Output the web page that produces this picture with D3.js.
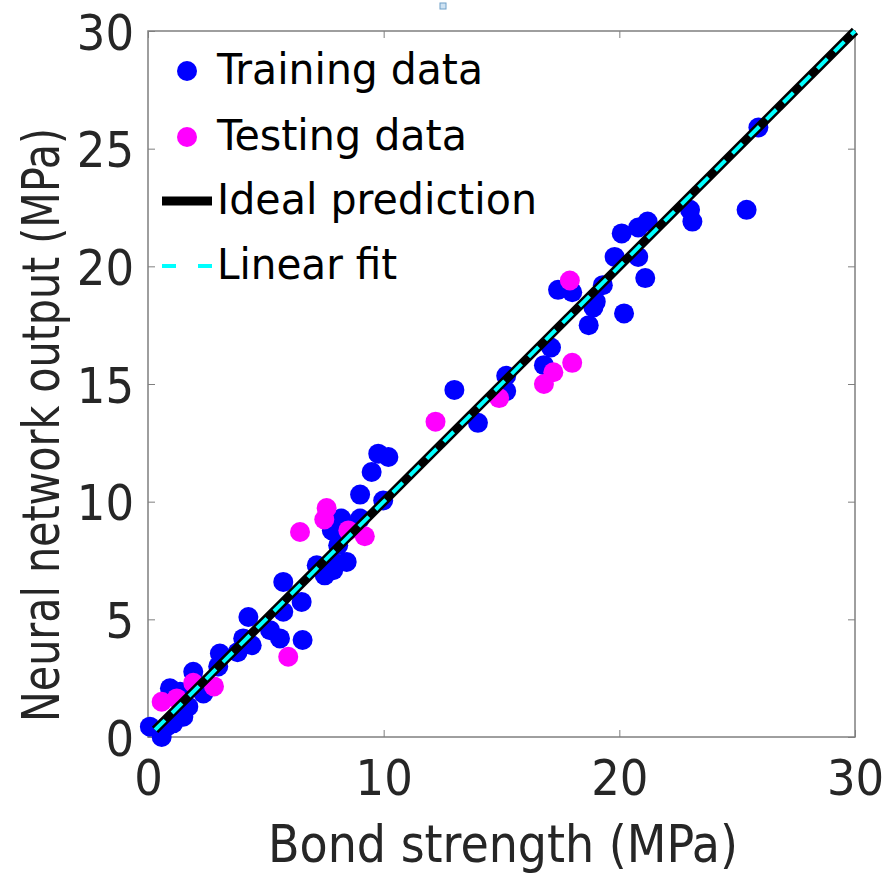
<!DOCTYPE html>
<html><head><meta charset="utf-8">
<script src="https://cdn.jsdelivr.net/npm/d3@7"></script>
<style>
body{margin:0;background:#fff;}
svg text{font-family:"Liberation Sans Narrow","DejaVu Sans Condensed","Open Sans",sans-serif;fill:#262626;}
</style></head>
<body><svg id="c" width="885" height="875"></svg>
<script>
// Training data [bond strength, network output]
const trainX = [0.08,0.58,0.79,1.07,1.5,1.71,0.93,1.36,2.35,1.92,2.98,3.05,3.8,4.04,4.4,4.26,5.18,5.6,6.56,5.74,6.52,5.74,7.16,7.5,7.86,8.07,8.43,7.93,7.8,8.2,9.0,9.0,9.98,9.49,9.77,10.2,13.0,14.0,15.2,15.2,16.8,17.1,17.4,18.0,18.7,18.9,19.0,19.3,20.2,19.8,20.8,21.1,20.1,20.8,21.2,23.0,23.1,25.4,25.9];
const trainY = [0.44,0.0,0.44,0.58,0.86,1.29,2.07,1.92,1.85,2.77,3.0,3.55,3.6,4.19,3.9,5.1,4.54,4.19,4.12,5.32,5.74,6.59,7.3,6.87,7.09,8.15,7.44,7.37,8.78,9.28,9.28,10.3,10.05,11.26,12.04,11.9,14.75,13.35,15.35,14.7,15.8,16.55,19.0,18.9,17.5,18.25,18.5,19.2,18.0,20.4,20.4,19.5,21.4,21.65,21.9,22.4,21.9,22.4,25.9];
// Testing data
const testX = [0.58,1.22,1.92,2.8,5.95,6.45,7.48,7.58,8.5,9.2,12.2,14.9,16.8,17.2,18.0,17.9];
const testY = [1.5,1.64,2.3,2.15,3.41,8.71,9.24,9.73,8.78,8.53,13.4,14.4,15.0,15.5,15.9,19.4];
// Lines
const lineX = [0.3,30];
const xTicks = [0,10,20,30];
const yTicks = [0,5,10,15,20,25,30];
const legendLabels = ["Training data","Testing data","Ideal prediction","Linear fit"];

const svg = d3.select("#c");
const L=148,R=855,T=31,B=737;
const x = d3.scaleLinear().domain([0,30]).range([L,R]);
const y = d3.scaleLinear().domain([0,30]).range([B,T]);

// small artifact square
svg.append("rect").attr("x",440).attr("y",3).attr("width",6).attr("height",6)
  .attr("fill","#cfe3f3").attr("stroke","#6fa0c8").attr("stroke-width",1);

// axes box
const axc="#7f7f7f";
svg.append("rect").attr("x",L).attr("y",T).attr("width",R-L).attr("height",B-T)
  .attr("fill","none").attr("stroke",axc).attr("stroke-width",1.5);
const g=svg.append("g");
const fs=50;
g.append("g").attr("transform",`translate(0,${B})`)
  .call(d3.axisBottom(x).tickValues(xTicks).tickSize(-7).tickPadding(16).tickFormat(d3.format("d")))
  .call(s=>{s.select(".domain").remove();s.selectAll("line").attr("stroke",axc);
    s.selectAll("text").attr("font-size",fs).attr("fill","#262626").attr("dy","0.71em").attr("y",22);});
g.append("g").attr("transform",`translate(0,${T})`)
  .call(d3.axisTop(x).tickValues(xTicks).tickSize(-7).tickFormat(""))
  .call(s=>{s.select(".domain").remove();s.selectAll("line").attr("stroke",axc);});
g.append("g").attr("transform",`translate(${L},0)`)
  .call(d3.axisLeft(y).tickValues(yTicks).tickSize(-7).tickPadding(14).tickFormat(d3.format("d")))
  .call(s=>{s.select(".domain").remove();s.selectAll("line").attr("stroke",axc);
    s.selectAll("text").attr("font-size",fs).attr("fill","#262626").attr("x",-14).attr("dy","0.36em");});
g.append("g").attr("transform",`translate(${R},0)`)
  .call(d3.axisRight(y).tickValues(yTicks).tickSize(-7).tickFormat(""))
  .call(s=>{s.select(".domain").remove();s.selectAll("line").attr("stroke",axc);});

// points
const train = trainX.map((v,i)=>[v,trainY[i]]);
const test = testX.map((v,i)=>[v,testY[i]]);
svg.append("g").selectAll("circle").data(train).join("circle")
  .attr("cx",d=>x(d[0])).attr("cy",d=>y(d[1])).attr("r",10).attr("fill","#0000ff");
svg.append("g").selectAll("circle").data(test).join("circle")
  .attr("cx",d=>x(d[0])).attr("cy",d=>y(d[1])).attr("r",10).attr("fill","#ff00ff");

// lines
const ln = d3.line().x(d=>x(d)).y(d=>y(d));
svg.append("path").attr("d",ln(lineX)).attr("stroke","#000").attr("stroke-width",9).attr("fill","none");
svg.append("path").attr("d",ln(lineX)).attr("stroke","#00ffff").attr("stroke-width",4).attr("fill","none")
  .attr("stroke-dasharray","14,10");

// legend
const lg = svg.append("g");
const rows=[71,137,201,266], widths=[266,250,320,180];
lg.append("circle").attr("cx",187).attr("cy",rows[0]).attr("r",10).attr("fill","#0000ff");
lg.append("circle").attr("cx",187).attr("cy",rows[1]).attr("r",10).attr("fill","#ff00ff");
lg.append("line").attr("x1",162).attr("x2",212).attr("y1",rows[2]).attr("y2",rows[2]).attr("stroke","#000").attr("stroke-width",9);
lg.append("line").attr("x1",162).attr("x2",212).attr("y1",rows[3]).attr("y2",rows[3]).attr("stroke","#00ffff").attr("stroke-width",4).attr("stroke-dasharray","14,22");
legendLabels.forEach((t,i)=>{
  lg.append("text").attr("x",217).attr("y",rows[i]+13).attr("font-size",42).attr("fill","#000")
    .style("fill","#000").attr("textLength",widths[i]).attr("lengthAdjust","spacingAndGlyphs").text(t);
});

// axis titles
svg.append("text").attr("x",503).attr("y",862).attr("text-anchor","middle").attr("font-size",52)
  .attr("textLength",470).attr("lengthAdjust","spacingAndGlyphs").text("Bond strength (MPa)");
svg.append("text").attr("transform","translate(59,425) rotate(-90)").attr("text-anchor","middle").attr("font-size",52)
  .attr("textLength",594).attr("lengthAdjust","spacingAndGlyphs").text("Neural network output (MPa)");
</script></body></html>
